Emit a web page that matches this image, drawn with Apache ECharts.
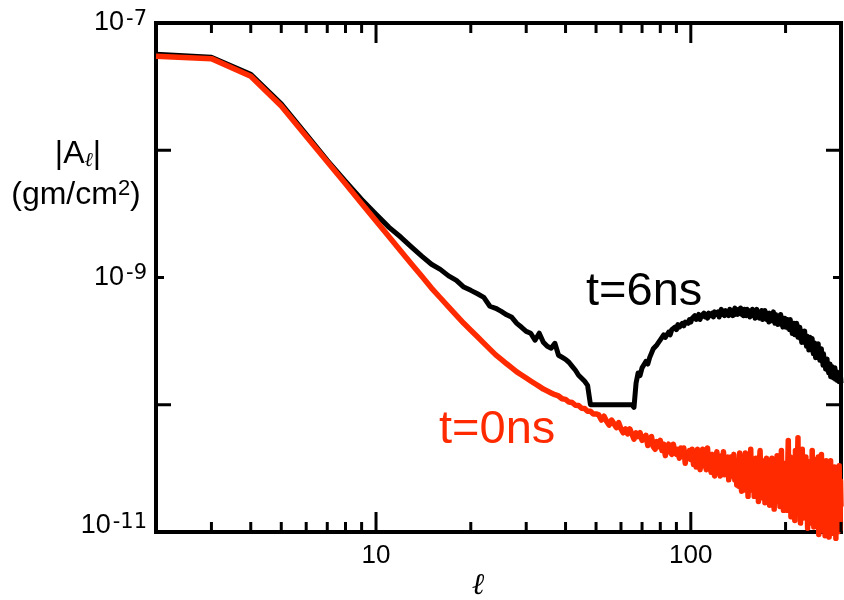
<!DOCTYPE html>
<html>
<head>
<meta charset="utf-8">
<script src="https://cdn.jsdelivr.net/npm/echarts@6/dist/echarts.min.js"></script>
<style>
  html, body { margin: 0; padding: 0; background: #fff; }
  #chart { width: 844px; height: 600px; }
</style>
</head>
<body>
<div id="chart"></div>
<script>
// Multipole index l
const ell = [
  2,3,4,5,6,7,8,9,10,
  11,12,13,14,15,16,17,18,19,20,
  21,22,23,24,25,26,27,28,29,30,
  31,32,33,34,35,36,37,38,39,40,
  41,42,43,44,45,46,47,48,49,50,
  51,52,53,54,55,56,57,58,59,60,
  61,62,63,64,65,66,67,68,69,70,
  71,72,73,74,75,76,77,78,79,80,
  81,82,83,84,85,86,87,88,89,90,
  91,92,93,94,95,96,97,98,99,100,
  101,102,103,104,105,106,107,108,109,110,
  111,112,113,114,115,116,117,118,119,120,
  121,122,123,124,125,126,127,128,129,130,
  131,132,133,134,135,136,137,138,139,140,
  141,142,143,144,145,146,147,148,149,150,
  151,152,153,154,155,156,157,158,159,160,
  161,162,163,164,165,166,167,168,169,170,
  171,172,173,174,175,176,177,178,179,180,
  181,182,183,184,185,186,187,188,189,190,
  191,192,193,194,195,196,197,198,199,200,
  201,202,203,204,205,206,207,208,209,210,
  211,212,213,214,215,216,217,218,219,220,
  221,222,223,224,225,226,227,228,229,230,
  231,232,233,234,235,236,237,238,239,240,
  241,242,243,244,245,246,247,248,249,250,
  251,252,253,254,255,256,257,258,259,260,
  261,262,263,264,265,266,267,268,269,270,
  271,272,273,274,275,276,277,278,279,280,
  281,282,283,284,285,286,287,288,289,290,
  291,292,293,294,295,296,297,298,299,300
];

// log10 |A_l| (gm/cm^2) at t = 0 ns
const logA_t0 = [
  -7.262,-7.280,-7.419,-7.652,-7.890,-8.090,-8.264,-8.418,-8.555,
  -8.679,-8.793,-8.897,-8.993,-9.083,-9.159,-9.230,-9.297,-9.360,-9.414,
  -9.466,-9.516,-9.563,-9.608,-9.643,-9.678,-9.710,-9.742,-9.766,-9.790,
  -9.813,-9.835,-9.856,-9.877,-9.892,-9.907,-9.921,-9.931,-9.953,-9.958,
  -9.979,-9.983,-10.004,-10.006,-10.028,-10.030,-10.052,-10.052,-10.073,-10.072,
  -10.08,-10.12,-10.09,-10.13,-10.16,-10.12,-10.15,-10.18,-10.14,-10.19,
  -10.22,-10.19,-10.23,-10.19,-10.23,-10.27,-10.22,-10.25,-10.22,-10.28,
  -10.29,-10.24,-10.32,-10.28,-10.25,-10.33,-10.35,-10.29,-10.33,-10.28,
  -10.36,-10.31,-10.40,-10.33,-10.31,-10.37,-10.39,-10.31,-10.37,-10.39,
  -10.35,-10.42,-10.34,-10.40,-10.34,-10.46,-10.38,-10.41,-10.36,-10.43,
  -10.35,-10.47,-10.39,-10.49,-10.35,-10.45,-10.51,-10.39,-10.35,-10.48,
  -10.43,-10.51,-10.34,-10.48,-10.42,-10.53,-10.39,-10.48,-10.56,-10.41,
  -10.37,-10.53,-10.45,-10.56,-10.40,-10.52,-10.37,-10.55,-10.45,-10.54,
  -10.41,-10.59,-10.46,-10.41,-10.56,-10.52,-10.39,-10.59,-10.46,-10.63,
  -10.44,-10.64,-10.38,-10.59,-10.68,-10.43,-10.50,-10.67,-10.38,-10.63,
  -10.49,-10.72,-10.43,-10.59,-10.35,-10.67,-10.59,-10.43,-10.72,-10.49,
  -10.42,-10.71,-10.53,-10.76,-10.47,-10.36,-10.66,-10.73,-10.49,-10.63,
  -10.44,-10.77,-10.53,-10.42,-10.69,-10.61,-10.47,-10.79,-10.49,-10.67,
  -10.42,-10.73,-10.57,-10.82,-10.45,-10.52,-10.76,-10.40,-10.70,-10.65,
  -10.47,-10.80,-10.50,-10.36,-10.73,-10.56,-10.83,-10.46,-10.70,-10.49,
  -10.47,-10.83,-10.54,-10.28,-10.77,-10.69,-10.41,-10.88,-10.51,-10.72,
  -10.44,-10.80,-10.59,-10.91,-10.36,-10.61,-10.83,-10.50,-10.26,-10.86,
  -10.73,-10.41,-10.93,-10.55,-10.80,-10.35,-10.70,-10.89,-10.47,-10.58,
  -10.87,-10.41,-10.79,-10.52,-10.97,-10.59,-10.45,-10.85,-10.63,-10.93,
  -10.50,-10.78,-10.36,-10.90,-10.62,-10.96,-10.48,-10.59,-10.85,-10.43,
  -10.93,-10.57,-10.77,-10.41,-11.02,-10.54,-10.85,-10.48,-10.75,-10.39,
  -10.90,-10.65,-10.99,-10.46,-10.82,-10.53,-11.03,-10.60,-10.44,-10.88,
  -10.58,-11.02,-10.50,-10.80,-11.04,-10.56,-10.86,-10.44,-10.97,-10.66,
  -10.89,-10.53,-11.01,-10.61,-10.79,-10.49,-10.95,-10.69,-11.05,-10.58,
  -10.86,-10.52,-11.00,-10.66,-10.92,-10.48,-10.84,-10.98,-10.60,-10.80
];

// log10 |A_l| (gm/cm^2) at t = 6 ns (floored at 1e-10)
const logA_t6 = [
  -7.246,-7.270,-7.403,-7.635,-7.875,-8.079,-8.244,-8.386,-8.503,
  -8.606,-8.684,-8.763,-8.834,-8.896,-8.936,-8.987,-9.022,-9.075,-9.101,
  -9.128,-9.156,-9.226,-9.242,-9.266,-9.293,-9.313,-9.360,-9.391,-9.423,
  -9.438,-9.493,-9.438,-9.509,-9.541,-9.556,-9.517,-9.611,-9.627,-9.643,
  -9.666,-9.698,-9.729,-9.768,-9.792,-9.816,-9.848,-10,-10,-10,
  -10,-10,-10,-10,-10,-10,-10,-10,-10,-10,
  -10,-10,-10,-10,-10,-10.02,-9.83,-9.75,-9.77,-9.71,
  -9.72,-9.66,-9.68,-9.63,-9.63,-9.56,-9.57,-9.53,-9.53,-9.49,
  -9.50,-9.45,-9.47,-9.45,-9.43,-9.45,-9.41,-9.42,-9.39,-9.41,
  -9.37,-9.39,-9.38,-9.36,-9.38,-9.35,-9.35,-9.36,-9.33,-9.35,
  -9.32,-9.33,-9.30,-9.33,-9.32,-9.29,-9.33,-9.30,-9.31,-9.28,
  -9.31,-9.29,-9.32,-9.28,-9.27,-9.30,-9.28,-9.31,-9.27,-9.29,
  -9.30,-9.27,-9.31,-9.28,-9.25,-9.29,-9.27,-9.30,-9.26,-9.29,
  -9.27,-9.30,-9.25,-9.29,-9.27,-9.30,-9.26,-9.24,-9.29,-9.26,
  -9.29,-9.25,-9.28,-9.24,-9.29,-9.26,-9.30,-9.25,-9.28,-9.30,
  -9.25,-9.29,-9.27,-9.31,-9.26,-9.29,-9.25,-9.30,-9.28,-9.32,
  -9.27,-9.25,-9.31,-9.28,-9.32,-9.27,-9.30,-9.26,-9.33,-9.29,
  -9.32,-9.26,-9.31,-9.33,-9.28,-9.29,-9.35,-9.28,-9.33,-9.29,
  -9.34,-9.30,-9.27,-9.34,-9.36,-9.29,-9.33,-9.31,-9.37,-9.30,
  -9.35,-9.33,-9.29,-9.37,-9.32,-9.39,-9.32,-9.37,-9.32,-9.39,
  -9.33,-9.38,-9.33,-9.40,-9.36,-9.41,-9.33,-9.40,-9.36,-9.44,
  -9.36,-9.41,-9.36,-9.45,-9.39,-9.44,-9.36,-9.44,-9.47,-9.40,
  -9.45,-9.39,-9.48,-9.43,-9.51,-9.42,-9.48,-9.44,-9.51,-9.42,
  -9.51,-9.48,-9.54,-9.46,-9.52,-9.48,-9.57,-9.50,-9.47,-9.56,
  -9.52,-9.56,-9.48,-9.56,-9.60,-9.51,-9.57,-9.53,-9.63,-9.52,
  -9.60,-9.56,-9.62,-9.52,-9.62,-9.59,-9.65,-9.57,-9.63,-9.56,
  -9.66,-9.61,-9.69,-9.60,-9.59,-9.68,-9.64,-9.72,-9.64,-9.70,
  -9.64,-9.73,-9.68,-9.75,-9.69,-9.74,-9.68,-9.78,-9.72,-9.76,
  -9.70,-9.77,-9.72,-9.79,-9.73,-9.77,-9.71,-9.80,-9.75,-9.78,
  -9.74,-9.81,-9.76,-9.80,-9.75,-9.82,-9.77,-9.81,-9.78,-9.83
];

// Axis ranges, tick marks and tick labels
const xRange = [2, 300];
const yRange = [1e-11, 1e-7];
const xMajorTicks = [10, 100];
const xMinorTicks = [3, 4, 5, 6, 7, 8, 9, 20, 30, 40, 50, 60, 70, 80, 90, 200, 300];
const xLabelValues = [10, 100];
const yLongTicks = [1e-8, 1e-10];
const yShortTicks = [1e-9];
const yLabelExponents = [-7, -9, -11];

const RED = '#ff2a00';
const FONT = '"Liberation Sans", Arial, Helvetica, sans-serif';
const SUP_FONT = '"DejaVu Sans", "Liberation Sans", sans-serif';

const t0Data = ell.map((l, i) => [l, Math.pow(10, logA_t0[i])]);
const t6Data = ell.map((l, i) => [l, Math.pow(10, logA_t6[i])]);

const xTickData = xMajorTicks.map(v => [v, yRange[0], 1]).concat(xMinorTicks.map(v => [v, yRange[0], 0]));
const yTickData = yLongTicks.map(v => [xRange[0], v, 1]).concat(yShortTicks.map(v => [xRange[0], v, 0]));
const yLabelData = yLabelExponents.map(e => [xRange[0], Math.pow(10, e), e]);

const tickStyle = { stroke: '#000', lineWidth: 3 };

function renderXTick(params, api) {
  const v = api.value(0);
  const len = api.value(2) ? 20 : 10;
  const b = api.coord([v, yRange[0]]);
  const t = api.coord([v, yRange[1]]);
  return {
    type: 'group',
    children: [
      { type: 'line', shape: { x1: b[0], y1: b[1], x2: b[0], y2: b[1] - len }, style: tickStyle },
      { type: 'line', shape: { x1: t[0], y1: t[1], x2: t[0], y2: t[1] + len }, style: tickStyle }
    ]
  };
}

function renderYTick(params, api) {
  const v = api.value(1);
  const len = api.value(2) ? 15 : 8;
  const l = api.coord([xRange[0], v]);
  const r = api.coord([xRange[1], v]);
  return {
    type: 'group',
    children: [
      { type: 'line', shape: { x1: l[0], y1: l[1], x2: l[0] + len, y2: l[1] }, style: tickStyle },
      { type: 'line', shape: { x1: r[0], y1: r[1], x2: r[0] - len, y2: r[1] }, style: tickStyle }
    ]
  };
}

// "10" with a raised exponent, right-aligned against the left axis
function renderYLabel(params, api) {
  const e = api.value(2);
  const p = api.coord([xRange[0], api.value(1)]);
  const isBottom = e === yLabelExponents[yLabelExponents.length - 1];
  return {
    type: 'text',
    x: p[0] - 9,
    y: p[1] - (isBottom ? 6 : 0),
    style: {
      text: '{b|10}{s|' + e + '}',
      align: 'right',
      verticalAlign: 'middle',
      rich: {
        b: { fontSize: 27, lineHeight: 28, fontFamily: FONT, fill: '#000' },
        s: { fontSize: 21, lineHeight: 21, fontFamily: SUP_FONT, fill: '#000', verticalAlign: 'top', padding: [0, 0, 0, 2] }
      }
    }
  };
}

function xLabel(v) {
  const hit = xLabelValues.find(t => Math.abs(Math.log10(v) - Math.log10(t)) < 1e-6);
  return hit ? String(hit) : '';
}

const axisLineStyle = { show: true, onZero: false, lineStyle: { color: '#000', width: 4, cap: 'square' } };

const chart = echarts.init(document.getElementById('chart'), null, { renderer: 'canvas' });

chart.setOption({
  animation: false,
  backgroundColor: '#ffffff',
  grid: { left: 156, top: 23, width: 694, height: 509, containLabel: false },
  xAxis: [
    {
      type: 'log', logBase: 10, min: xRange[0], max: xRange[1], position: 'bottom',
      axisLine: axisLineStyle, axisTick: { show: false }, minorTick: { show: false },
      splitLine: { show: false },
      axisLabel: { interval: 0, formatter: xLabel, margin: 11, color: '#000', fontSize: 26, fontFamily: FONT }
    },
    {
      type: 'log', logBase: 10, min: xRange[0], max: xRange[1], position: 'top',
      axisLine: axisLineStyle, axisTick: { show: false }, axisLabel: { show: false }, splitLine: { show: false }
    }
  ],
  yAxis: [
    {
      type: 'log', logBase: 10, min: yRange[0], max: yRange[1], position: 'left',
      axisLine: axisLineStyle, axisTick: { show: false }, splitLine: { show: false },
      axisLabel: { show: false }
    },
    {
      type: 'log', logBase: 10, min: yRange[0], max: yRange[1], position: 'right',
      axisLine: axisLineStyle, axisTick: { show: false }, axisLabel: { show: false }, splitLine: { show: false }
    }
  ],
  series: [
    {
      name: 't=6ns', type: 'line', data: t6Data, showSymbol: false, symbol: 'none',
      lineStyle: { color: '#000', width: 5, join: 'round' }, z: 2
    },
    {
      name: 't=0ns', type: 'line', data: t0Data, showSymbol: false, symbol: 'none', clip: false,
      lineStyle: { color: RED, width: 5.5, join: 'round' }, z: 3
    },
    {
      type: 'custom', renderItem: renderXTick, data: xTickData, encode: { x: 0, y: 1 },
      clip: false, silent: true, z: 6
    },
    {
      type: 'custom', renderItem: renderYTick, data: yTickData, encode: { x: 0, y: 1 },
      clip: false, silent: true, z: 6
    },
    {
      type: 'custom', renderItem: renderYLabel, data: yLabelData, encode: { x: 0, y: 1 },
      clip: false, silent: true, z: 6
    }
  ],
  graphic: [
    {
      type: 'text', x: 586, y: 292, silent: true,
      style: { text: 't=6ns', fill: '#000', font: '47px ' + FONT, align: 'left', verticalAlign: 'middle' }
    },
    {
      type: 'text', x: 439, y: 430, silent: true,
      style: { text: 't=0ns', fill: RED, font: '47px ' + FONT, align: 'left', verticalAlign: 'middle' }
    },
    {
      type: 'text', x: 78, y: 154, silent: true,
      style: {
        text: '{a||A}{l|ℓ}{a||}', align: 'center', verticalAlign: 'middle',
        rich: {
          a: { fontSize: 32, fontFamily: FONT, fill: '#000', lineHeight: 34 },
          l: { fontSize: 20, fontFamily: '"DejaVu Serif"', fontStyle: 'italic', fill: '#000', lineHeight: 34, verticalAlign: 'bottom' }
        }
      }
    },
    {
      type: 'text', x: 76, y: 195, silent: true,
      style: {
        text: '{a|(gm/cm}{s|2}{a|)}', align: 'center', verticalAlign: 'middle',
        rich: {
          a: { fontSize: 32, fontFamily: FONT, fill: '#000', lineHeight: 34 },
          s: { fontSize: 22, fontFamily: FONT, fill: '#000', lineHeight: 34, verticalAlign: 'top' }
        }
      }
    },
    {
      type: 'text', x: 478, y: 586, silent: true,
      style: { text: 'ℓ', fill: '#000', font: 'italic 30px "DejaVu Serif"', align: 'center', verticalAlign: 'middle' }
    }
  ]
});
</script>
</body>
</html>
